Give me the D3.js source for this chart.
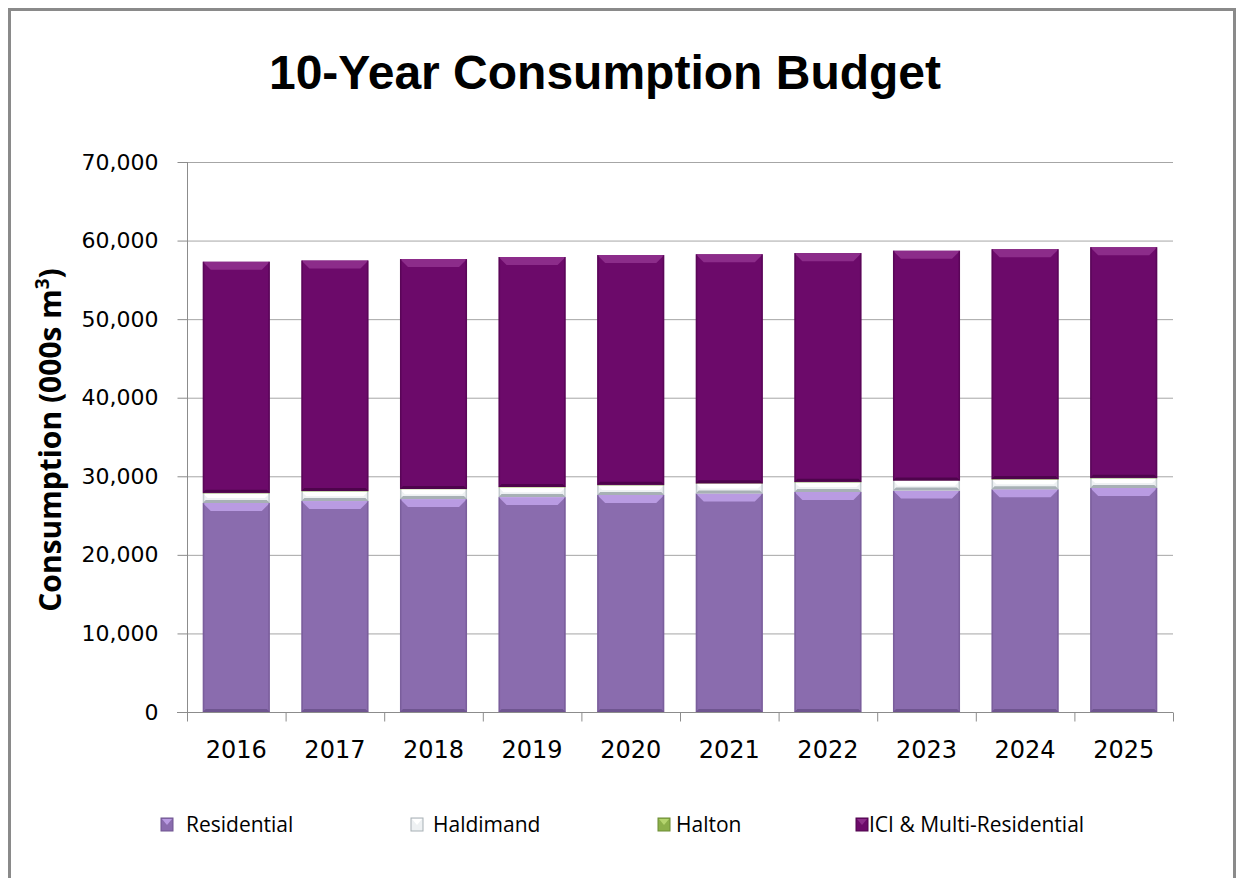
<!DOCTYPE html>
<html>
<head>
<meta charset="utf-8">
<script src="https://cdn.jsdelivr.net/npm/d3@7"></script>
<style>
  body { margin: 0; background: #fff; }
  svg { display: block; }
</style>
</head>
<body>
<svg></svg>
<script>
let years = ['2016', '2017', '2018', '2019', '2020', '2021', '2022', '2023', '2024', '2025']
let residential = [26600, 26850, 27100, 27350, 27620, 27820, 28000, 28180, 28350, 28510]
let haldimand = [1250, 1250, 1250, 1250, 1250, 1250, 1250, 1250, 1250, 1250]
let halton = [40, 40, 40, 40, 40, 40, 40, 40, 40, 40]
let ici = [29410, 29310, 29260, 29260, 29240, 29140, 29110, 29230, 29260, 29350]
let yTicks = [0, 10000, 20000, 30000, 40000, 50000, 60000, 70000]

let seriesNames = ['Residential', 'Haldimand', 'Halton', 'ICI & Multi-Residential']
let seriesKeys = ['res', 'hal', 'hton', 'ici']
let colors = {
    res: {base: '#8a6cae', top: '#b99be2', bottom: '#6f5590'},
    hal: {base: '#eef1f3', top: '#ffffff', bottom: '#a7b0b5'},
    hton: {base: '#8cb04a', top: '#b4d46e', bottom: '#6c8c34'},
    ici: {base: '#6c0a6a', top: '#8c2c8a', bottom: '#4e044c'}
}

let width = 1236
let height = 878
let plotLeft = 187
let plotRight = 1173
let plotTop = 162
let plotBottom = 712

let rows = years.map((y, i) => ({year: y, res: residential[i], hal: haldimand[i], hton: halton[i], ici: ici[i]}))

let svg = d3.select('svg').attr('width', width).attr('height', height)

// outer frame
svg.append('rect').attr('x', 9.5).attr('y', 9.5).attr('width', 1225).attr('height', 900)
   .attr('fill', 'none').attr('stroke', '#8a8a8a').attr('stroke-width', 3)

svg.append('text')
   .attr('x', 605).attr('y', 89)
   .attr('text-anchor', 'middle')
   .attr('font-family', 'Liberation Sans, Arial, sans-serif')
   .attr('font-weight', 'bold')
   .attr('font-size', 48)
   .text('10-Year Consumption Budget')

let xScale = d3.scaleBand().domain(years).range([plotLeft, plotRight]).paddingInner(0.32).paddingOuter(0.16)
let yScale = d3.scaleLinear().domain([0, 70000]).range([plotBottom, plotTop])

// gridlines
svg.append('g')
   .selectAll('line')
   .data(yTicks.filter(t => t > 0))
   .enter()
   .append('line')
   .attr('x1', plotLeft).attr('x2', plotRight)
   .attr('y1', d => yScale(d) + 0.5).attr('y2', d => yScale(d) + 0.5)
   .attr('stroke', '#a6a6a6')

let stack = d3.stack().keys(seriesKeys)
let layers = stack(rows)

let bars = svg.append('g')
layers.forEach(layer => {
    let c = colors[layer.key]
    let g = bars.append('g')
    layer.forEach(d => {
        let x = xScale(d.data.year)
        let w = xScale.bandwidth()
        let y0 = yScale(d[1])
        let h = yScale(d[0]) - yScale(d[1])
        let b = Math.min(8, h / 2)
        g.append('rect').attr('x', x).attr('y', y0).attr('width', w).attr('height', h).attr('fill', c.base)
        g.append('path')
         .attr('d', `M${x},${y0}L${x + w},${y0}L${x + w - b},${y0 + b}L${x + b},${y0 + b}Z`)
         .attr('fill', c.top)
        let bb = Math.min(3, h / 3)
        g.append('path')
         .attr('d', `M${x},${y0 + h}L${x + w},${y0 + h}L${x + w - bb},${y0 + h - bb}L${x + bb},${y0 + h - bb}Z`)
         .attr('fill', c.bottom)
        g.append('rect').attr('x', x).attr('y', y0).attr('width', 1.5).attr('height', h).attr('fill', c.bottom).attr('opacity', 0.6)
        g.append('rect').attr('x', x + w - 1.5).attr('y', y0).attr('width', 1.5).attr('height', h).attr('fill', c.bottom).attr('opacity', 0.6)
    })
})

// y axis
let yAxis = d3.axisLeft(yScale).tickValues(yTicks).tickFormat(d3.format(',')).tickSize(10).tickPadding(19)
let ya = svg.append('g').attr('transform', 'translate(' + (plotLeft + 0.5) + ',0)').call(yAxis)
ya.select('.domain').attr('stroke', '#8c8c8c').attr('d', `M0,${plotTop}V${plotBottom}`)
ya.selectAll('.tick line').attr('stroke', '#8c8c8c')
ya.selectAll('.tick text').attr('font-family', 'DejaVu Sans, sans-serif').attr('font-size', 22).attr('fill', '#000')

// x axis with ticks at category boundaries
let xa = svg.append('g').attr('transform', 'translate(0,' + (plotBottom + 0.5) + ')')
xa.append('line').attr('x1', plotLeft - 10).attr('x2', plotRight).attr('stroke', '#8c8c8c')
let step = xScale.step()
xa.selectAll('.bound')
  .data(years.concat(['end']))
  .enter()
  .append('line')
  .attr('x1', (d, i) => plotLeft + i * step + 0.5)
  .attr('x2', (d, i) => plotLeft + i * step + 0.5)
  .attr('y1', 0).attr('y2', 9)
  .attr('stroke', '#8c8c8c')
xa.selectAll('text')
  .data(years)
  .enter()
  .append('text')
  .attr('x', d => xScale(d) + xScale.bandwidth() / 2)
  .attr('y', 45)
  .attr('text-anchor', 'middle')
  .attr('font-family', 'DejaVu Sans, sans-serif')
  .attr('font-size', 24)
  .text(d => d)

// y label
let yl = svg.append('text')
   .attr('transform', 'translate(61,440) rotate(-90)')
   .attr('text-anchor', 'middle')
   .attr('font-family', 'Open Sans, sans-serif')
   .attr('font-weight', 'bold')
   .attr('font-size', 30)
yl.append('tspan').text('Consumption (000s m')
yl.append('tspan').attr('font-size', 19).attr('dy', -12).text('3')
yl.append('tspan').attr('dy', 12).text(')')

// legend
let legendX = [161, 411, 658, 856]
let legendTextX = [25, 22, 18, 13]
let legend = svg.append('g')
seriesKeys.forEach((k, i) => {
    let c = colors[k]
    let lg = legend.append('g').attr('transform', 'translate(' + legendX[i] + ',818)')
    lg.append('rect').attr('width', 12).attr('height', 13).attr('fill', c.base).attr('stroke', c.bottom).attr('stroke-width', 1)
    lg.append('path').attr('d', 'M1,1L11,1L6,7Z').attr('fill', c.top)
    lg.append('text')
      .attr('x', legendTextX[i]).attr('y', 14)
      .attr('font-family', 'Open Sans, sans-serif')
      .attr('font-size', 21)
      .text(seriesNames[i])
})
</script>
</body>
</html>
